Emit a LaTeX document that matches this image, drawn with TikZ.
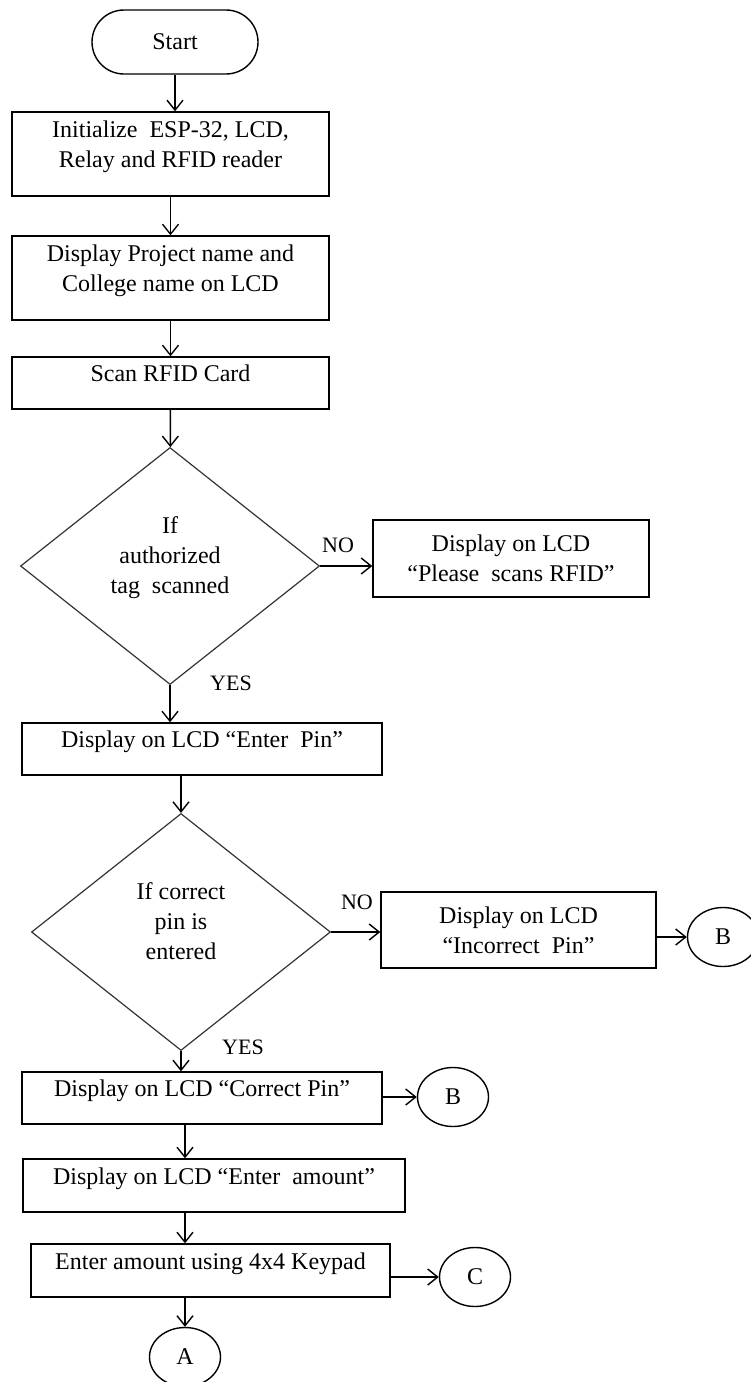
\documentclass[tikz,border=0pt]{standalone}
\usepackage{fontspec}
\setmainfont{Liberation Serif}
\usetikzlibrary{calc,positioning,shapes.geometric,arrows.meta}

\begin{document}
\begin{tikzpicture}[x=0.5pt, y=-0.5pt, line width=0.7pt,
    font=\fontsize{12}{15}\selectfont,
    box/.style={draw, rectangle, align=center, inner sep=2pt},
    lifted/.style={text depth=9.5pt},
    decision/.style={draw=black!80, line width=0.6pt, diamond, align=center, inner sep=0pt,
        minimum width=149.5pt, minimum height=118.5pt, text depth=11pt},
    connector/.style={draw, ellipse, minimum width=35.5pt, minimum height=29.5pt, inner sep=0pt},
    arr/.style={-{Straight Barb[length=5pt,width=8pt]}},
    tag/.style={font=\fontsize{11}{13}\selectfont}]

            \useasboundingbox (0,0) rectangle (750,1382);

            % Start and set-up steps
            \node[box, rounded corners=16pt, minimum width=83pt, minimum height=32pt] (start) at (175,42) {Start};
            \node[box, lifted, minimum width=158.5pt, minimum height=42pt] (init) at (170.5,154) {Initialize\ \ ESP-32, LCD,\\Relay and RFID reader};
            \node[box, lifted, minimum width=158.5pt, minimum height=42pt] (proj) at (170.5,278) {Display Project name and\\College name on LCD};
            \node[box, lifted, minimum width=158.5pt, minimum height=26pt] (scan) at (170.5,383) {Scan RFID Card};

            % First check: the tag
            \node[decision] (dia1) at (170,566) {If\\authorized\\tag\ \ scanned};
            \node[box, minimum width=138pt, minimum height=38.5pt] (please) at (511,558.5) {Display on LCD\\“Please\ \ scans RFID”};
            \node[tag] (no1) at (338,545) {NO};
            \node[tag] (yes1) at (231,683) {YES};
            \node[box, lifted, minimum width=180pt, minimum height=26pt] (pin) at (202,749) {Display on LCD “Enter\ \ Pin”};

            % Second check: the pin
            \node[decision] (dia2) at (181,932) {If correct\\pin is\\entered};
            \node[box, minimum width=137.5pt, minimum height=38pt] (wrong) at (518.5,930) {Display on LCD\\“Incorrect\ \ Pin”};
            \node[connector] (b1) at (723,937) {B};
            \node[tag] (no2) at (357,902) {NO};
            \node[tag] (yes2) at (243,1047) {YES};
            \node[box, lifted, minimum width=180pt, minimum height=26pt] (okpin) at (202,1098) {Display on LCD “Correct Pin”};
            \node[connector] (b2) at (453,1097) {B};

            % Amount entry
            \node[box, lifted, minimum width=191pt, minimum height=26.5pt] (amount) at (214,1185.5) {Display on LCD “Enter\ \ amount”};
            \node[box, lifted, minimum width=179.5pt, minimum height=26.5pt] (keypad) at (210.5,1270.5) {Enter amount using 4x4 Keypad};
            \node[connector] (cc) at (475,1277) {C};
            \node[connector] (ca) at (185,1357) {A};

            % Main line
            \draw[arr] (start.south) -- (start.south |- init.north);
            \draw[arr] (init) -- (proj);
            \draw[arr] (proj) -- (scan);
            \draw[arr] (scan) -- (dia1);
            \draw[arr] (dia1.south) -- (dia1.south |- pin.north);
            \draw[arr] (pin.south -| dia2.north) -- (dia2.north);
            \draw[arr] (dia2.south) -- (dia2.south |- okpin.north);
            \draw[arr] (okpin.south -| ca) -- (amount.north -| ca);
            \draw[arr] (amount.south -| ca) -- (keypad.north -| ca);
            \draw[arr] (keypad.south -| ca) -- (ca.north);

            % Side branches
            \draw[arr] (dia1.east) -- (dia1.east -| please.west);
            \draw[arr] (dia2.east) -- (dia2.east -| wrong.west);
            \draw[arr] (b1.west -| wrong.east) -- (b1.west);
            \draw[arr] (b2.west -| okpin.east) -- (b2.west);
            \draw[arr] (cc.west -| keypad.east) -- (cc.west);
        \end{tikzpicture}
\end{document}
